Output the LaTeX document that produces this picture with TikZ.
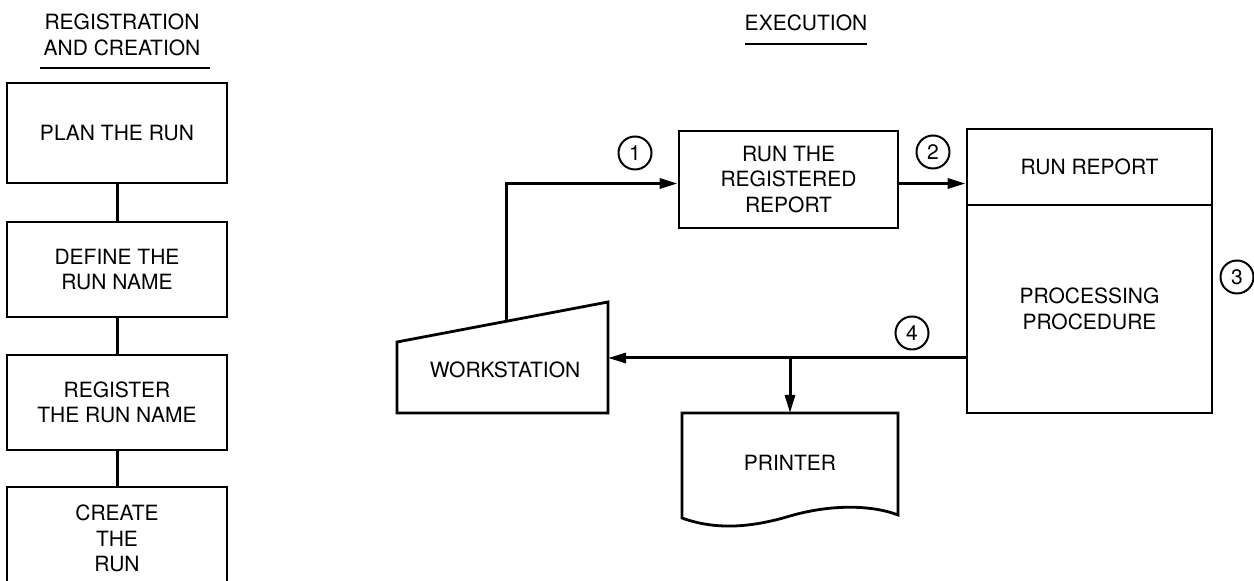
\documentclass[tikz,border=0pt]{standalone}
\usepackage{fontspec}
\setmainfont{TeX Gyre Heros}
\usetikzlibrary{arrows.meta}
\begin{document}
\begin{tikzpicture}[x=0.5pt,y=-0.5pt,
  every node/.style={font=\fontsize{10.5}{12.8}\selectfont, align=center, inner sep=0pt},
  stepbox/.style={draw, line width=1.4pt, minimum width=110pt},
  plainbox/.style={draw, line width=1.4pt},
  link/.style={line width=1.5pt},
  flow/.style={line width=1.5pt, -{Triangle[length=9pt,width=5pt]}},
  marker/.style={draw, circle, line width=1pt, minimum size=16.5pt},
  rule/.style={line width=1pt}]
\useasboundingbox (0,0) rectangle (1254,581);

% ---- registration and creation ----
\node (hdrA) at (122,35) {REGISTRATION\\AND CREATION};
\draw[rule] (40,68) -- (210,68);

\node[stepbox, minimum height=50pt]   (plan)   at (117,133)   {PLAN THE RUN};
\node[stepbox, minimum height=47.5pt] (define) at (117,269.5) {DEFINE THE\\RUN NAME};
\node[stepbox, minimum height=47.5pt] (regist) at (117,402.5) {REGISTER\\THE RUN NAME};
\node[stepbox, minimum height=51.5pt] (create) at (117,538.5) {CREATE\\THE\\RUN};

\draw[link] (plan.south)   -- (define.north);
\draw[link] (define.south) -- (regist.north);
\draw[link] (regist.south) -- (create.north);

% ---- execution ----
\node (hdrB) at (806,23) {EXECUTION};
\draw[rule] (745,44) -- (867,44);

\node[plainbox, minimum width=109.5pt, minimum height=48.5pt] (runreg) at (788.5,179.5)
  {RUN THE\\REGISTERED\\REPORT};
\node[plainbox, minimum width=122.5pt, minimum height=38pt] (rep) at (1089.5,167) {RUN REPORT};
\node[plainbox, minimum width=122.5pt, minimum height=104pt] (proc) at (1089.5,309)
  {PROCESSING\\PROCEDURE};

% workstation (manual input shape)
\draw[line width=1.4pt] (397,342) -- (608,302) -- (608,413) -- (397,413) -- cycle;
\node (ws) at (505,370) {WORKSTATION};
\coordinate (wsTop) at (506,321.5);
\coordinate (wsIn) at (608,358);

% printer (document shape)
\draw[line width=1.4pt] (682,413) -- (898,413) -- (898,515)
  .. controls (875,506) and (835,503) .. (790,516)
  .. controls (750,528) and (715,530) .. (682,518) -- cycle;
\node (prn) at (790,463) {PRINTER};
\coordinate (prnTop) at (790,413);

% step markers
\node[marker] (m1) at (635,153) {1};
\node[marker] (m2) at (933,152) {2};
\node[marker] (m3) at (1237,277) {3};
\node[marker] (m4) at (912,333) {4};

% flow of a run
\draw[flow] (wsTop) |- ([yshift=-2pt]runreg.west);
\draw[flow] ([yshift=-2pt]runreg.east) -- ([yshift=-2pt]runreg.east -| rep.west);
\coordinate (split) at (790,358);
\draw[flow] (proc.west |- wsIn) -- (wsIn);
\draw[flow] (split) -- (prnTop);
\end{tikzpicture}
\end{document}
